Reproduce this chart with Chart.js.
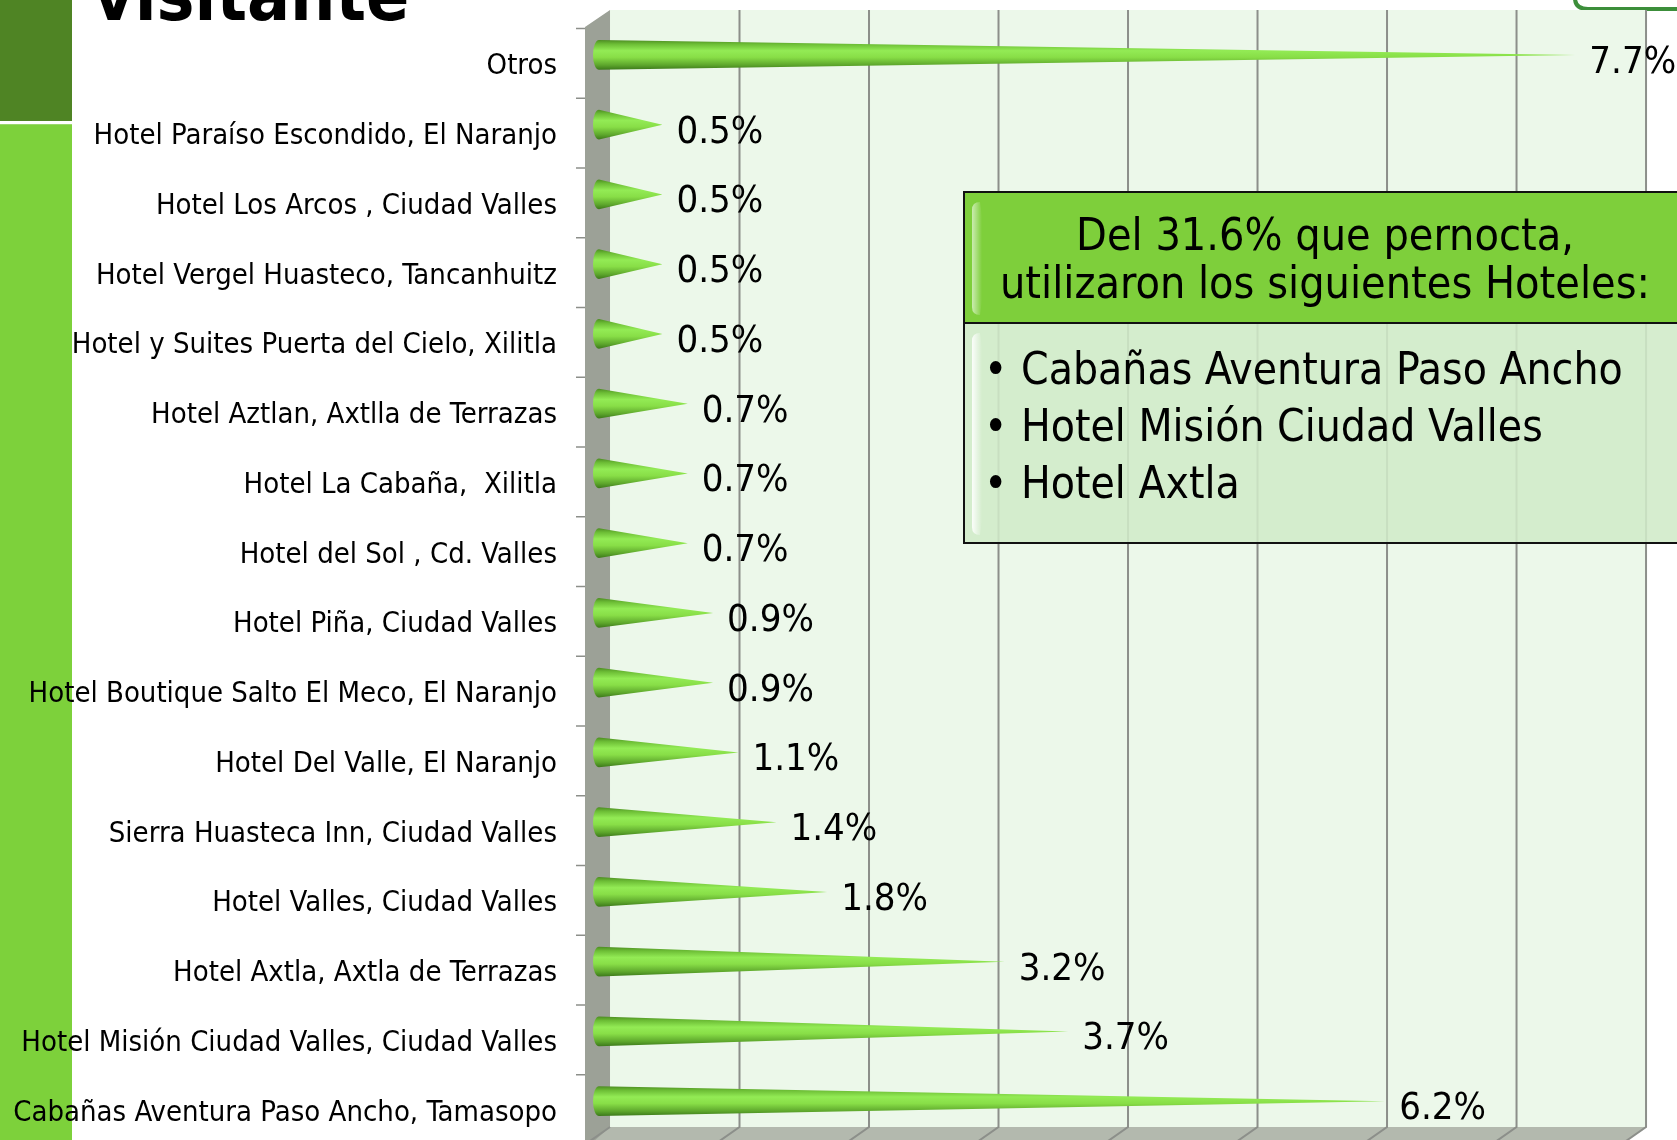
<!DOCTYPE html>
<html>
<head>
<meta charset="utf-8">
<script src="https://cdn.jsdelivr.net/npm/chart.js@4.4.0/dist/chart.umd.min.js"></script>
<style>
  html, body { margin: 0; padding: 0; background: #ffffff; overflow: hidden; }
  #wrap { position: relative; width: 1677px; height: 1140px; }
</style>
</head>
<body>
<div id="wrap"><canvas id="chart"></canvas></div>
<script>
// Datos del gráfico (de arriba hacia abajo)
var hoteles = [
    'Otros',
    'Hotel Paraíso Escondido, El Naranjo',
    'Hotel Los Arcos , Ciudad Valles',
    'Hotel Vergel Huasteco, Tancanhuitz',
    'Hotel y Suites Puerta del Cielo, Xilitla',
    'Hotel Aztlan, Axtlla de Terrazas',
    'Hotel La Cabaña,  Xilitla',
    'Hotel del Sol , Cd. Valles',
    'Hotel Piña, Ciudad Valles',
    'Hotel Boutique Salto El Meco, El Naranjo',
    'Hotel Del Valle, El Naranjo',
    'Sierra Huasteca Inn, Ciudad Valles',
    'Hotel Valles, Ciudad Valles',
    'Hotel Axtla, Axtla de Terrazas',
    'Hotel Misión Ciudad Valles, Ciudad Valles',
    'Cabañas Aventura Paso Ancho, Tamasopo'
];
var porcentajes = [7.7, 0.5, 0.5, 0.5, 0.5, 0.7, 0.7, 0.7, 0.9, 0.9, 1.1, 1.4, 1.8, 3.2, 3.7, 6.2];
var ticksPared = [0, 1, 2, 3, 4, 5, 6, 7, 8];

var tituloCaja = ['Del 31.6% que pernocta,', 'utilizaron los siguientes Hoteles:'];
var listaCaja = ['Cabañas Aventura Paso Ancho', 'Hotel Misión Ciudad Valles', 'Hotel Axtla'];

var FUENTE = "'DejaVu Sans Condensed', 'DejaVu Sans', sans-serif";

// Fondo de la diapositiva, paredes 3D y piso
const fondoPlugin = {
    id: 'fondo',
    beforeDraw(chart) {
        const ctx = chart.ctx;
        const area = chart.chartArea;
        const xw = chart.scales.xWall;
        const topBack = area.top - 10;
        const bottomBack = area.bottom - 9;
        const backLeft = xw.getPixelForValue(0);
        const backRight = xw.getPixelForValue(8);
        const frontLeft = area.left - 14;

        ctx.save();
        // franja verde izquierda
        ctx.fillStyle = '#4f8424';
        ctx.fillRect(0, 0, 72, 121);
        ctx.fillStyle = '#ffffff';
        ctx.fillRect(0, 121, 72, 3);
        ctx.fillStyle = '#9ad86a';
        ctx.fillRect(0, 124, 72, 1);
        ctx.fillStyle = '#7dd13b';
        ctx.fillRect(0, 125, 72, 1015);

        // titulo cortado
        ctx.fillStyle = '#000000';
        ctx.font = "bold 71px " + FUENTE;
        ctx.textBaseline = 'alphabetic';
        ctx.fillText('visitante', 93, 20);

        // caja verde arriba a la derecha
        ctx.beginPath();
        ctx.moveTo(1575, -20);
        ctx.lineTo(1575, -2);
        ctx.quadraticCurveTo(1575, 9, 1588, 9);
        ctx.lineTo(1700, 9);
        ctx.lineTo(1700, -20);
        ctx.fillStyle = '#ffffff';
        ctx.fill();
        ctx.lineWidth = 4;
        ctx.strokeStyle = '#3c8e3a';
        ctx.stroke();

        // pared del fondo
        ctx.fillStyle = '#ecf8ea';
        ctx.fillRect(backLeft, topBack, backRight - backLeft, bottomBack - topBack);

        // piso
        ctx.fillStyle = '#b3b9ae';
        ctx.beginPath();
        ctx.moveTo(backLeft, bottomBack);
        ctx.lineTo(backRight, bottomBack);
        ctx.lineTo(backRight - 40, bottomBack + 28);
        ctx.lineTo(backLeft - 40, bottomBack + 28);
        ctx.closePath();
        ctx.fill();

        // pared lateral
        ctx.fillStyle = '#9ca197';
        ctx.beginPath();
        ctx.moveTo(frontLeft, area.top + 7);
        ctx.lineTo(backLeft, topBack);
        ctx.lineTo(backLeft, bottomBack);
        ctx.lineTo(frontLeft, bottomBack + 22);
        ctx.lineTo(frontLeft, 1160);
        ctx.closePath();
        ctx.fill();

        // lineas de division de la pared y el piso
        ctx.strokeStyle = '#8c8f8a';
        ctx.lineWidth = 2;
        ticksPared.forEach(v => {
            const px = xw.getPixelForValue(v);
            ctx.beginPath();
            if (v > 0) {
                ctx.moveTo(px, topBack);
                ctx.lineTo(px, bottomBack);
            } else {
                ctx.moveTo(px, bottomBack);
            }
            ctx.lineTo(px - 30, bottomBack + 21);
            ctx.stroke();
        });

        // marcas del eje de categorias
        const ys = chart.scales.y;
        const paso = (ys.bottom - ys.top) / hoteles.length;
        ctx.strokeStyle = '#8c8f8a';
        ctx.lineWidth = 1.5;
        for (let i = 0; i <= hoteles.length; i++) {
            const ty = ys.top + i * paso + 8.5;
            ctx.beginPath();
            ctx.moveTo(frontLeft - 9, ty);
            ctx.lineTo(frontLeft, ty);
            ctx.stroke();
        }
        ctx.restore();
    }
};

// Conos 3D y etiquetas de valor
const conosPlugin = {
    id: 'conos',
    afterDatasetsDraw(chart) {
        const ctx = chart.ctx;
        const meta = chart.getDatasetMeta(0);
        ctx.save();
        meta.data.forEach((el, i) => {
            const r = el.height / 2;
            const x0 = el.base;
            const x1 = el.x;
            const y = el.y;
            const g = ctx.createLinearGradient(0, y - r, 0, y + r);
            g.addColorStop(0, '#4c8b22');
            g.addColorStop(0.14, '#6cbd35');
            g.addColorStop(0.36, '#93eb55');
            g.addColorStop(0.58, '#88de47');
            g.addColorStop(0.84, '#5da62c');
            g.addColorStop(1, '#3b771a');
            ctx.fillStyle = g;
            ctx.beginPath();
            ctx.moveTo(x0, y - r);
            ctx.lineTo(x1, y);
            ctx.lineTo(x0, y + r);
            ctx.ellipse(x0, y, 6, r, 0, Math.PI / 2, Math.PI * 3 / 2);
            ctx.closePath();
            ctx.fill();

            ctx.fillStyle = '#000000';
            ctx.font = '38px ' + FUENTE;
            ctx.textAlign = 'left';
            ctx.textBaseline = 'alphabetic';
            ctx.fillText(porcentajes[i].toFixed(1) + '%', x1 + 14, y + 18);
        });
        ctx.restore();
    },
    afterDraw(chart) {
        // cuadro de texto
        const ctx = chart.ctx;
        ctx.save();
        const L = 964, R = 1688, T = 192, M = 323, B = 543;
        ctx.fillStyle = 'rgba(208, 234, 200, 0.88)';
        ctx.fillRect(L, M, R - L, B - M);
        ctx.fillStyle = '#7ecf3b';
        ctx.fillRect(L, T, R - L, M - T);

        // brillos
        function brillo(x, y1, y2, alpha) {
            const g = ctx.createLinearGradient(x, 0, x + 10, 0);
            g.addColorStop(0, 'rgba(255,255,255,' + alpha + ')');
            g.addColorStop(1, 'rgba(255,255,255,0)');
            ctx.fillStyle = g;
            ctx.beginPath();
            ctx.moveTo(x, y1 + 8);
            ctx.quadraticCurveTo(x, y1, x + 8, y1);
            ctx.lineTo(x + 10, y1 + 14);
            ctx.lineTo(x + 10, y2 - 14);
            ctx.lineTo(x + 8, y2);
            ctx.quadraticCurveTo(x, y2, x, y2 - 8);
            ctx.closePath();
            ctx.fill();
        }
        brillo(L + 8, T + 10, M - 8, 0.6);
        brillo(L + 8, M + 10, B - 8, 0.9);

        ctx.strokeStyle = '#111111';
        ctx.lineWidth = 2;
        ctx.strokeRect(L, T, R - L, B - T);
        ctx.beginPath();
        ctx.moveTo(L, M);
        ctx.lineTo(R, M);
        ctx.stroke();

        ctx.fillStyle = '#000000';
        ctx.font = '44.5px ' + FUENTE;
        ctx.textBaseline = 'alphabetic';
        ctx.textAlign = 'center';
        ctx.fillText(tituloCaja[0], 1325, 250);
        ctx.fillText(tituloCaja[1], 1325, 298);

        ctx.font = '44px ' + FUENTE;
        ctx.textAlign = 'left';
        listaCaja.forEach((t, i) => {
            const by = 384 + i * 57;
            ctx.fillText('\u2022', 984, by);
            ctx.fillText(t, 1021, by);
        });
        ctx.restore();
    }
};

var ctx = document.getElementById('chart').getContext('2d');
var chart = new Chart(ctx, {
    type: 'bar',
    data: {
        labels: hoteles,
        datasets: [{
            label: 'Hoteles',
            data: porcentajes,
            backgroundColor: 'rgba(0,0,0,0)',
            borderWidth: 0,
            barPercentage: 0.43,
            categoryPercentage: 1.0
        }]
    },
    options: {
        indexAxis: 'y',
        responsive: true,
        maintainAspectRatio: false,
        animation: false,
        layout: { padding: { top: 20, bottom: 4, left: 0, right: 63.6 } },
        plugins: {
            legend: { display: false },
            tooltip: { enabled: false }
        },
        scales: {
            x: {
                display: false,
                min: 0,
                max: 8
            },
            // pared del fondo (la proyeccion 3D la desplaza respecto a los conos)
            xWall: {
                type: 'linear',
                axis: 'x',
                display: false,
                min: -0.085,
                max: 7.748
            },
            y: {
                grid: { display: false, drawTicks: false },
                border: { display: false },
                ticks: {
                    color: '#000000',
                    padding: 42,
                    labelOffset: 12,
                    autoSkip: false,
                    font: { family: FUENTE, size: 29 }
                },
                afterFit: function (scale) {
                    scale.width = 599;
                    scale.paddingTop = 0;
                    scale.paddingBottom = 0;
                }
            }
        }
    },
    plugins: [fondoPlugin, conosPlugin]
});
</script>
</body>
</html>
